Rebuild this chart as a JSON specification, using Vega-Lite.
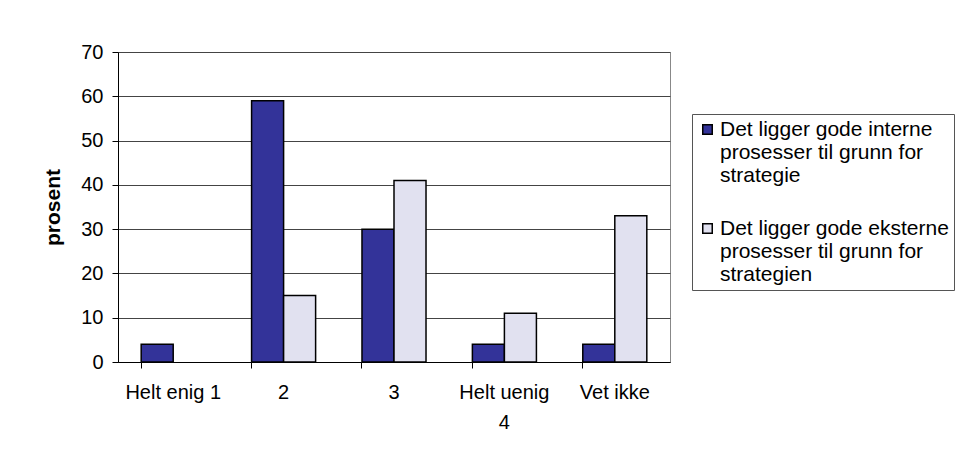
{
  "$schema": "https://vega.github.io/schema/vega-lite/v6.json",
  "width": 552,
  "height": 310,
  "autosize": {"type": "none"},
  "padding": {"left": 118, "top": 52, "right": 285, "bottom": 99},
  "background": "white",
  "data": {
    "values": [
      {"kategori": "Helt enig 1", "serie": "Det ligger gode interne prosesser til grunn for strategie", "prosent": 4},
      {"kategori": "2", "serie": "Det ligger gode interne prosesser til grunn for strategie", "prosent": 59},
      {"kategori": "2", "serie": "Det ligger gode eksterne prosesser til grunn for strategien", "prosent": 15},
      {"kategori": "3", "serie": "Det ligger gode interne prosesser til grunn for strategie", "prosent": 30},
      {"kategori": "3", "serie": "Det ligger gode eksterne prosesser til grunn for strategien", "prosent": 41},
      {"kategori": "Helt uenig 4", "serie": "Det ligger gode interne prosesser til grunn for strategie", "prosent": 4},
      {"kategori": "Helt uenig 4", "serie": "Det ligger gode eksterne prosesser til grunn for strategien", "prosent": 11},
      {"kategori": "Vet ikke", "serie": "Det ligger gode interne prosesser til grunn for strategie", "prosent": 4},
      {"kategori": "Vet ikke", "serie": "Det ligger gode eksterne prosesser til grunn for strategien", "prosent": 33}
    ]
  },
  "mark": {"type": "bar", "stroke": "black", "strokeWidth": 1.5},
  "encoding": {
    "x": {
      "field": "kategori",
      "type": "nominal",
      "sort": ["Helt enig 1", "2", "3", "Helt uenig 4", "Vet ikke"],
      "scale": {"paddingInner": 0.42, "paddingOuter": 0.21},
      "axis": {
        "title": null,
        "labelAngle": 0,
        "bandPosition": 0,
        "labelExpr": "datum.label == 'Helt uenig 4' ? ['Helt uenig', '4'] : datum.label",
        "labelLineHeight": 30,
        "labelBaseline": "top",
        "labelPadding": 14,
        "tickSize": 6,
        "grid": false,
        "domainColor": "black",
        "tickColor": "black"
      }
    },
    "xOffset": {
      "field": "serie",
      "type": "nominal",
      "sort": ["Det ligger gode interne prosesser til grunn for strategie", "Det ligger gode eksterne prosesser til grunn for strategien"],
      "scale": {"paddingInner": 0, "paddingOuter": 0}
    },
    "y": {
      "field": "prosent",
      "type": "quantitative",
      "scale": {"domain": [0, 70], "nice": false},
      "axis": {
        "title": "prosent",
        "titleFontWeight": "bold",
        "titleFontSize": 21,
        "titlePadding": 17,
        "values": [0, 10, 20, 30, 40, 50, 60, 70],
        "tickSize": 6,
        "labelPadding": 9,
        "domainColor": "black",
        "tickColor": "black",
        "gridColor": "#444444",
        "gridWidth": 1
      }
    },
    "fill": {
      "field": "serie",
      "type": "nominal",
      "sort": ["Det ligger gode interne prosesser til grunn for strategie", "Det ligger gode eksterne prosesser til grunn for strategien"],
      "scale": {"range": ["#333399", "#E1E1F0"]},
      "legend": {
        "title": null,
        "orient": "none",
        "legendX": 574,
        "legendY": 62,
        "padding": 5,
        "strokeColor": "#555555",
        "fillColor": "white",
        "symbolType": "square",
        "symbolSize": 90,
        "symbolStrokeColor": "black",
        "symbolStrokeWidth": 1.5,
        "labelExpr": "datum.label == 'Det ligger gode interne prosesser til grunn for strategie' ? ['Det ligger gode interne', 'prosesser til grunn for', 'strategie'] : ['Det ligger gode eksterne', 'prosesser til grunn for', 'strategien']",
        "labelFontSize": 21,
        "labelLineHeight": 26,
        "labelLimit": 400,
        "labelOffset": 2,
        "rowPadding": 31
      }
    }
  },
  "config": {
    "font": "Liberation Sans",
    "view": {"stroke": "#888888", "strokeWidth": 1},
    "axis": {
      "labelFont": "Liberation Sans",
      "labelFontSize": 20,
      "labelColor": "black",
      "titleFont": "Liberation Sans",
      "titleColor": "black"
    },
    "legend": {"labelFont": "Liberation Sans", "labelColor": "black"}
  }
}
